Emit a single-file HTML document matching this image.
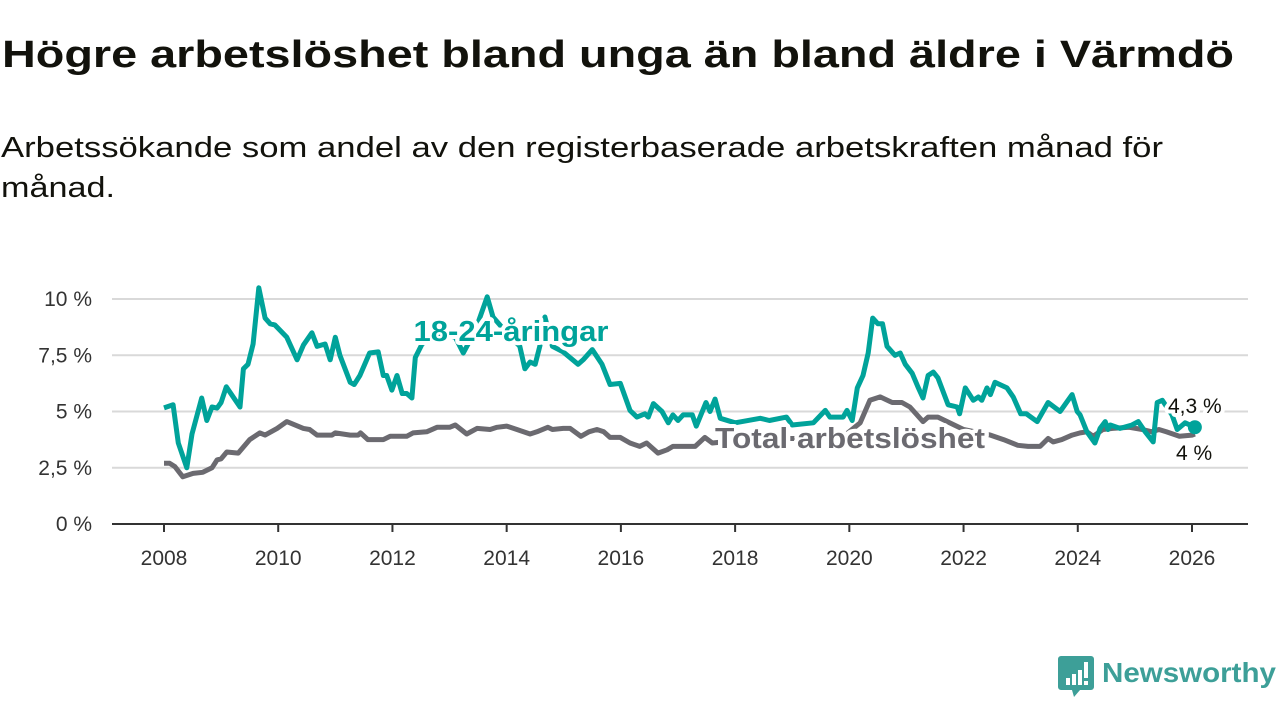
<!DOCTYPE html>
<html><head><meta charset="utf-8"><style>
html,body{margin:0;padding:0;background:#fff;}
svg{display:block;font-family:"Liberation Sans",sans-serif;}
</style></head><body>
<svg id="chart" width="1280" height="720" viewBox="0 0 1280 720">
<text x="2" y="67" font-size="38" font-weight="bold" fill="#12120c" textLength="1232" lengthAdjust="spacingAndGlyphs">Högre arbetslöshet bland unga än bland äldre i Värmdö</text>
<text x="1" y="157" font-size="29" fill="#12120c" textLength="1162" lengthAdjust="spacingAndGlyphs">Arbetssökande som andel av den registerbaserade arbetskraften månad för</text>
<text x="1" y="197" font-size="29" fill="#12120c" textLength="114" lengthAdjust="spacingAndGlyphs">månad.</text>
<g id="grid"></g>
<g id="xaxis"></g>
<g id="series"></g>
<g id="labels"></g>
<g>
<path d="M1061 656 h30 a3 3 0 0 1 3 3 v28 a3 3 0 0 1 -3 3 h-11 l-6 7 l-2 -7 h-11 a3 3 0 0 1 -3 -3 v-28 a3 3 0 0 1 3 -3z" fill="#3d9f98"/>
<rect x="1066" y="678" width="4" height="7" fill="#fff"/><rect x="1072" y="674" width="4" height="11" fill="#fff"/><rect x="1078" y="670" width="4" height="15" fill="#fff"/><rect x="1084" y="662" width="4" height="16" fill="#fff"/><rect x="1084" y="681" width="4" height="4" fill="#fff"/>
<text x="1102" y="682" font-size="28" font-weight="bold" fill="#3d9f98" textLength="174" lengthAdjust="spacingAndGlyphs">Newsworthy</text>
</g>
</svg>
<script>
const yTicks = [0, 2.5, 5, 7.5, 10];
const yTickLabels = ["0 %", "2,5 %", "5 %", "7,5 %", "10 %"];
const xTicks = [2008, 2010, 2012, 2014, 2016, 2018, 2020, 2022, 2024, 2026];
const youthT = [2008.0,2008.16,2008.25,2008.4,2008.49,2008.66,2008.75,2008.84,2008.93,2009.0,2009.09,2009.33,2009.39,2009.47,2009.56,2009.66,2009.77,2009.86,2009.94,2010.15,2010.33,2010.44,2010.59,2010.68,2010.82,2010.91,2011.0,2011.08,2011.26,2011.33,2011.43,2011.6,2011.75,2011.84,2011.9,2011.99,2012.08,2012.17,2012.25,2012.34,2012.4,2012.52,2012.8,2013.1,2013.24,2013.45,2013.66,2013.76,2014.0,2014.23,2014.32,2014.41,2014.5,2014.58,2014.67,2014.8,2014.99,2015.25,2015.34,2015.5,2015.67,2015.81,2015.99,2016.16,2016.28,2016.42,2016.48,2016.57,2016.72,2016.83,2016.91,2017.0,2017.09,2017.25,2017.32,2017.49,2017.56,2017.65,2017.74,2018.0,2018.44,2018.6,2018.9,2019.0,2019.37,2019.58,2019.66,2019.89,2019.96,2020.05,2020.14,2020.24,2020.33,2020.41,2020.5,2020.58,2020.66,2020.8,2020.89,2020.98,2021.1,2021.2,2021.29,2021.38,2021.47,2021.55,2021.73,2021.89,2021.93,2022.03,2022.17,2022.26,2022.32,2022.41,2022.47,2022.55,2022.76,2022.87,2023.0,2023.1,2023.29,2023.48,2023.69,2023.9,2023.99,2024.04,2024.16,2024.3,2024.39,2024.48,2024.53,2024.57,2024.74,2024.95,2025.06,2025.18,2025.32,2025.39,2025.48,2025.65,2025.74,2025.88,2026.05];
const youthV = [5.16,5.3,3.6,2.5,4.0,5.6,4.6,5.2,5.15,5.4,6.1,5.2,6.9,7.1,8.0,10.5,9.15,8.9,8.85,8.3,7.3,7.95,8.5,7.9,8.0,7.3,8.3,7.5,6.3,6.2,6.6,7.6,7.65,6.6,6.6,5.95,6.6,5.8,5.8,5.6,7.4,8.0,8.5,8.3,7.6,8.6,10.1,9.2,8.5,7.9,6.9,7.2,7.1,7.9,9.2,7.9,7.65,7.1,7.3,7.75,7.1,6.2,6.25,5.05,4.75,4.9,4.75,5.35,5.0,4.5,4.85,4.6,4.85,4.85,4.35,5.4,5.0,5.55,4.7,4.5,4.7,4.6,4.75,4.4,4.5,5.05,4.75,4.75,5.05,4.6,6.05,6.6,7.6,9.15,8.9,8.9,7.9,7.5,7.6,7.1,6.7,6.1,5.6,6.6,6.75,6.5,5.3,5.2,4.9,6.05,5.5,5.65,5.5,6.05,5.75,6.3,6.05,5.65,4.9,4.9,4.55,5.4,5.0,5.75,5.0,4.85,4.1,3.6,4.25,4.55,4.2,4.4,4.25,4.4,4.55,4.1,3.65,5.4,5.5,4.85,4.2,4.5,4.3];
const totalT = [2008.0,2008.1,2008.19,2008.33,2008.51,2008.68,2008.84,2008.93,2009.0,2009.1,2009.3,2009.5,2009.68,2009.77,2009.98,2010.15,2010.44,2010.55,2010.68,2010.94,2011.0,2011.26,2011.4,2011.44,2011.57,2011.84,2011.96,2012.1,2012.25,2012.36,2012.6,2012.78,2013.0,2013.1,2013.3,2013.48,2013.71,2013.83,2014.0,2014.18,2014.41,2014.53,2014.72,2014.8,2014.99,2015.11,2015.3,2015.44,2015.58,2015.7,2015.81,2015.99,2016.16,2016.33,2016.45,2016.65,2016.81,2016.91,2017.3,2017.47,2017.6,2018.0,2018.5,2019.0,2019.5,2019.9,2020.19,2020.36,2020.54,2020.75,2020.92,2021.06,2021.29,2021.38,2021.55,2022.0,2022.47,2022.7,2022.95,2023.13,2023.34,2023.48,2023.57,2023.72,2023.9,2024.04,2024.16,2024.27,2024.44,2024.61,2024.9,2025.13,2025.3,2025.42,2025.55,2025.78,2026.0,2026.05];
const totalV = [2.7,2.7,2.55,2.1,2.25,2.3,2.5,2.85,2.9,3.2,3.15,3.75,4.05,3.95,4.25,4.55,4.25,4.2,3.95,3.95,4.05,3.95,3.95,4.05,3.75,3.75,3.9,3.9,3.9,4.05,4.1,4.3,4.3,4.4,4.0,4.25,4.2,4.3,4.35,4.2,4.0,4.1,4.3,4.2,4.25,4.25,3.9,4.1,4.2,4.1,3.85,3.85,3.6,3.45,3.6,3.15,3.3,3.45,3.45,3.85,3.6,3.7,3.8,3.8,3.8,3.9,4.5,5.5,5.65,5.4,5.4,5.2,4.55,4.75,4.75,4.2,3.95,3.75,3.5,3.45,3.45,3.8,3.65,3.75,3.95,4.05,4.1,3.9,4.2,4.25,4.3,4.2,4.1,4.2,4.1,3.9,3.95,4.0];

const NS='http://www.w3.org/2000/svg';
const X0=112,X1=1248,Y0=524;
function xs(t){return 164+(t-2008)*(1192-164)/18;}
function ys(v){return Y0-v*22.5;}
function mk(tag,attrs,parent){const e=document.createElementNS(NS,tag);for(const k in attrs)e.setAttribute(k,attrs[k]);parent.appendChild(e);return e;}
const grid=document.getElementById('grid');
yTicks.forEach((v,i)=>{
  if(v>0){const l=mk('line',{x1:X0,x2:X1,y1:ys(v),y2:ys(v),stroke:'#d9d9d9','stroke-width':2},grid);
  
  }
  const t=mk('text',{x:92,y:ys(v)+7,'text-anchor':'end','font-size':21,fill:'#333'},grid);
  
  
  t.textContent=yTickLabels[i];
});
const xa=document.getElementById('xaxis');
const al=mk('line',{x1:X0,x2:X1,y1:Y0,y2:Y0,stroke:'#333','stroke-width':2},xa);


xTicks.forEach(y=>{
  const tk=mk('line',{x1:xs(y),x2:xs(y),y1:Y0,y2:Y0+8,stroke:'#333','stroke-width':2},xa);
  
  
  const t=mk('text',{x:xs(y),y:565,'text-anchor':'middle','font-size':21,fill:'#333'},xa);
  
  
  t.textContent=String(y);
});
const sg=document.getElementById('series');
function path(T,V){return T.map((t,i)=>(i?'L':'M')+xs(t).toFixed(1)+' '+ys(V[i]).toFixed(1)).join(' ');}
const tl=mk('path',{d:path(totalT,totalV),fill:'none',stroke:'#6b6a70','stroke-width':5,'stroke-linejoin':'round'},sg);


const yl=mk('path',{d:path(youthT,youthV),fill:'none',stroke:'#00a39a','stroke-width':5,'stroke-linejoin':'round'},sg);


const dot=mk('circle',{cx:xs(youthT[youthT.length-1]),cy:ys(youthV[youthV.length-1]),r:7,fill:'#00a39a'},sg);


const lg=document.getElementById('labels');
function lab(x,y,txt,size,w,fill,name,anchor,len){
  const a={x:x,y:y,'font-size':size,'font-weight':w,fill:fill,'text-anchor':anchor||'middle',stroke:'#fff','stroke-width':8,'paint-order':'stroke','stroke-linejoin':'round'};
  if(len){a.textLength=len;a.lengthAdjust='spacingAndGlyphs';}
  const t=mk('text',a,lg);
  
  
  t.textContent=txt;return t;}
lab(511,341,'18-24-åringar',29,'bold','#00a39a','youth-series-label','middle',195);
lab(850,448,'Total arbetslöshet',29,'bold','#6b6a70','total-series-label','middle',270);
lab(1168,413,'4,3 %',21,'normal','#12120c','youth-last-value','start');
lab(1176,460,'4 %',21,'normal','#12120c','total-last-value','start');
</script>
</body></html>
